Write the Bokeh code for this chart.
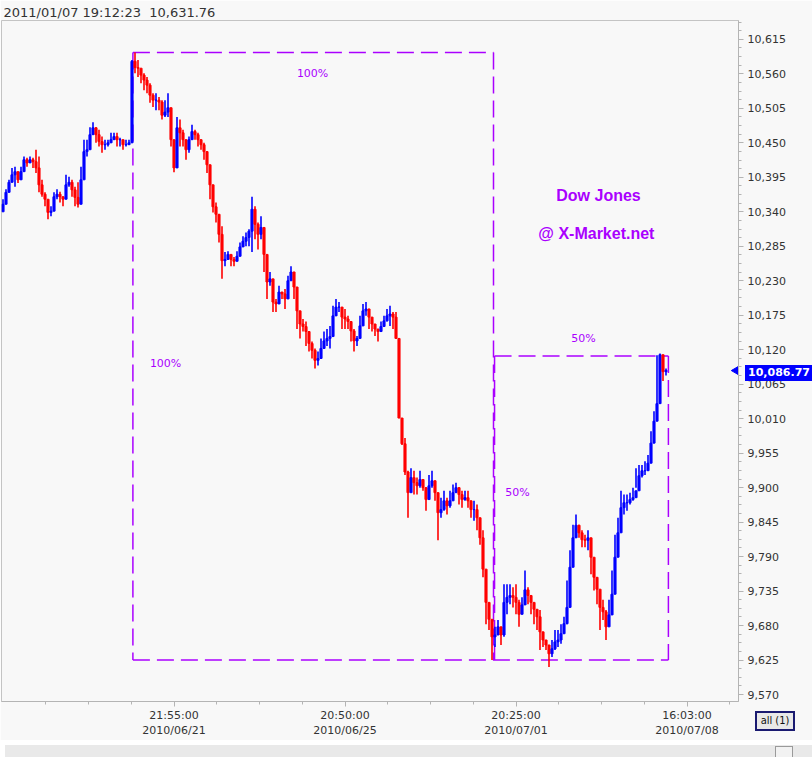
import numpy as np
from bokeh.plotting import figure
from bokeh.models import FixedTicker, NumeralTickFormatter, Range1d, Div, ColumnDataSource
from bokeh.layouts import column
from bokeh.embed import file_html
from bokeh.resources import INLINE
from bokeh.core.properties import value

# ---------------- data ----------------
header = "2011/01/07 19:12:23\u00a0\u00a010,631.76"
first_open = 10340
closes = [
    10352, 10371, 10387, 10399, 10404, 10391, 10404, 10423, 10418, 10423,
    10420, 10410, 10383, 10368, 10360, 10339, 10341, 10364, 10368, 10364,
    10360, 10383, 10387, 10375, 10363, 10352, 10391, 10436, 10439, 10463,
    10474, 10463, 10452, 10447, 10447, 10450, 10455, 10460, 10455, 10455,
    10447, 10447, 10450, 10580, 10570, 10569, 10558, 10550, 10542, 10526,
    10518, 10518, 10515, 10494, 10499, 10506, 10455, 10410, 10474,
    10466, 10455, 10439, 10455, 10468, 10463, 10455, 10447, 10436, 10415,
    10383, 10348, 10336, 10304, 10262, 10264, 10272, 10264, 10261, 10269,
    10284, 10293, 10299, 10309, 10344, 10320, 10304, 10315, 10272, 10228,
    10233, 10196, 10193, 10212, 10209, 10201, 10230, 10244, 10220, 10182,
    10161, 10157, 10149, 10130, 10119, 10103, 10106, 10122, 10134, 10138,
    10141, 10174, 10188, 10188, 10172,
    10169, 10165, 10150, 10134, 10138, 10158, 10182, 10185, 10172, 10161,
    10153, 10149, 10157, 10166, 10174, 10177, 10172, 10138, 10011, 9970,
    9925, 9892, 9916, 9908, 9903, 9913, 9900, 9881, 9903, 9911,
    9892, 9860, 9865, 9879, 9871, 9879, 9892, 9900, 9889, 9881,
    9884, 9879, 9865, 9865, 9852, 9820, 9770,
    9717, 9690, 9662, 9665, 9678, 9665, 9717, 9725, 9728, 9725,
    9717, 9698, 9713, 9737, 9728, 9717, 9706, 9694, 9670, 9657,
    9649, 9635, 9643, 9654, 9657, 9667, 9683, 9709, 9773, 9820,
    9840, 9828, 9817, 9816, 9820, 9789, 9757, 9738, 9709, 9702,
    9678, 9697, 9730, 9789, 9828, 9868, 9876, 9876, 9881, 9884,
    9895, 9919, 9927, 9927, 9939, 9971, 10006, 10034, 10112, 10085,
    10087,
]
highs = [
    10360, 10376, 10391, 10410, 10412, 10402, 10412, 10428, 10426, 10428,
    10426, 10439, 10428, 10391, 10371, 10355, 10349, 10371, 10376, 10372,
    10364, 10399, 10396, 10391, 10380, 10387, 10412, 10455, 10455, 10475,
    10483, 10475, 10471, 10460, 10455, 10455, 10466, 10466, 10466, 10458,
    10452, 10455, 10455, 10582, 10594, 10582, 10566, 10561, 10555, 10545,
    10529, 10529, 10523, 10518, 10518, 10529, 10491, 10444, 10491,
    10487, 10471, 10455, 10460, 10479, 10471, 10466, 10455, 10450, 10428,
    10402, 10364, 10355, 10323, 10317, 10276, 10277, 10269, 10268, 10277,
    10291, 10301, 10307, 10312, 10364, 10349, 10323, 10333, 10301, 10249,
    10244, 10212, 10201, 10222, 10212, 10217, 10238, 10253, 10228, 10201,
    10174, 10169, 10165, 10149, 10133, 10122, 10117, 10138, 10149, 10153,
    10158, 10190, 10201, 10196, 10185,
    10185, 10174, 10158, 10153, 10142, 10174, 10193, 10196, 10180, 10169,
    10158, 10153, 10165, 10174, 10185, 10190, 10180, 10180, 10138, 10011,
    9979, 9927, 9931, 9927, 9916, 9927, 9911, 9900, 9920, 9927,
    9911, 9884, 9884, 9895, 9884, 9895, 9905, 9908, 9900, 9895,
    9895, 9895, 9879, 9879, 9873, 9841, 9832,
    9721, 9709, 9682, 9678, 9689, 9673, 9746, 9746, 9746, 9741,
    9746, 9721, 9725, 9768, 9741, 9725, 9709, 9705, 9705, 9667,
    9657, 9646, 9657, 9673, 9673, 9682, 9694, 9752, 9800, 9841,
    9857, 9841, 9832, 9825, 9832, 9800, 9768, 9757, 9725, 9721,
    9705, 9721, 9768, 9825, 9852, 9895, 9889, 9889, 9892, 9900,
    9931, 9936, 9936, 9942, 9952, 9990, 10022, 10111, 10114, 10095,
    10090,
]
lows = [
    10344, 10360, 10376, 10391, 10380, 10386, 10391, 10407, 10412, 10418,
    10410, 10402, 10371, 10364, 10349, 10328, 10333, 10349, 10360, 10355,
    10349, 10376, 10380, 10364, 10349, 10347, 10380, 10412, 10428, 10455,
    10466, 10450, 10444, 10434, 10439, 10444, 10450, 10455, 10444, 10444,
    10439, 10444, 10447, 10450, 10561, 10555, 10545, 10534, 10529, 10514,
    10507, 10502, 10502, 10487, 10491, 10491, 10444, 10403, 10439,
    10444, 10444, 10423, 10434, 10455, 10455, 10444, 10439, 10423, 10402,
    10360, 10339, 10323, 10291, 10233, 10253, 10264, 10253, 10253, 10264,
    10276, 10285, 10285, 10285, 10276, 10296, 10280, 10296, 10244, 10201,
    10222, 10180, 10180, 10201, 10201, 10185, 10222, 10233, 10201, 10153,
    10138, 10149, 10126, 10117, 10106, 10090, 10095, 10117, 10126, 10126,
    10122, 10158, 10174, 10180, 10153,
    10153, 10153, 10133, 10117, 10126, 10142, 10174, 10174, 10153, 10149,
    10142, 10133, 10149, 10158, 10165, 10158, 10153, 10138, 10011, 9968,
    9920, 9852, 9895, 9889, 9889, 9900, 9895, 9863, 9889, 9900,
    9879, 9816, 9852, 9863, 9857, 9868, 9884, 9895, 9873, 9868,
    9879, 9868, 9852, 9847, 9832, 9809, 9757,
    9682, 9673, 9625, 9646, 9667, 9649, 9662, 9698, 9714, 9709,
    9698, 9678, 9698, 9721, 9714, 9698, 9682, 9673, 9641, 9646,
    9641, 9614, 9630, 9641, 9646, 9651, 9678, 9682, 9746, 9794,
    9820, 9820, 9805, 9805, 9800, 9762, 9736, 9714, 9673, 9689,
    9657, 9682, 9698, 9768, 9816, 9852, 9857, 9863, 9873, 9879,
    9900, 9911, 9916, 9920, 9927, 9952, 9990, 10016, 10085, 10070,
    10079,
]

xtick_pos = [57, 114, 171, 228]
xtick_labels = ["21:55:00\n2010/06/21", "20:50:00\n2010/06/25",
                "20:25:00\n2010/07/01", "16:03:00\n2010/07/08"]
ytick_vals = list(range(9570, 10616, 55))

wave_high, wave_low, wave_mid = 10594, 9625, 10110
wave_start, wave_turn, wave_end = 43.3, 163.5, 221.8
last_price = 10086.77
last_label = "10,086.77"

note_text = ["100%", "100%", "50%", "50%"]
note_x = [103.2, 54.2, 193.5, 171.5]
note_y = [10561, 10098, 10138, 9892]
brand_text = ["Dow Jones", "@ X-Market.net"]
brand_x = [198.5, 197.8]
brand_y = [10366, 10306]

# ---------------- derived ----------------
n = len(closes)
idx = np.arange(n)
cl = np.array(closes, dtype=float)
op = np.concatenate([[first_open], cl[:-1]])
colors = np.where(cl >= op, "#0000ff", "#ff0000")
src = ColumnDataSource(dict(x=idx, top=np.maximum(cl, op), bottom=np.minimum(cl, op),
                            hi=np.array(highs, dtype=float), lo=np.array(lows, dtype=float),
                            color=colors))

PURPLE = "#aa00ff"
FONT = "DejaVu Sans"

p = figure(width=812, height=740,
           x_range=Range1d(-0.5, -0.5 + 737 / 3.0),
           y_range=Range1d(9558.9, 10645.1),
           y_axis_location="right", output_backend="svg", toolbar_location=None,
           min_border_left=1, min_border_right=74, min_border_top=20, min_border_bottom=35,
           background_fill_color="#f8f8f8", border_fill_color="#f8f8f8",
           outline_line_color="#c4c4c4", title=header)
p.grid.visible = False
p.title.text_font = FONT
p.title.text_font_size = "13px"
p.title.text_font_style = "normal"
p.title.text_color = "#333333"
p.title.align = "left"
p.title.offset = 2
p.title.standoff = 2

# axes
yax = p.yaxis[0]
yax.ticker = FixedTicker(ticks=ytick_vals, minor_ticks=list(np.arange(9570 - 55, 10660, 13.75)))
yax.formatter = NumeralTickFormatter(format="0,0")
xax = p.xaxis[0]
xax.ticker = FixedTicker(ticks=xtick_pos,
                         minor_ticks=list(np.arange(xtick_pos[0] - 3 * 14.25, 246, 14.25)))
xax.major_label_overrides = {k: v for k, v in zip(xtick_pos, xtick_labels)}
for ax in (xax, yax):
    ax.axis_line_color = "#b4b4b4"
    ax.major_tick_line_color = "#b4b4b4"
    ax.minor_tick_line_color = "#b4b4b4"
    ax.major_tick_in = 0
    ax.minor_tick_in = 0
    ax.major_tick_out = 5
    ax.minor_tick_out = 3
    ax.major_label_text_font = FONT
    ax.major_label_text_font_size = "11px"
    ax.major_label_text_color = "#333333"
yax.major_label_standoff = 4
xax.major_label_standoff = 2

# wave measurement lines
seg_x0 = [wave_start, wave_start, wave_turn, wave_start, wave_turn + 0.35, wave_turn + 0.35, wave_end]
seg_y0 = [wave_high, wave_high, wave_high, wave_low, wave_mid, wave_mid, wave_mid]
seg_x1 = [wave_turn, wave_start, wave_turn, wave_end, wave_end, wave_turn + 0.35, wave_end]
seg_y1 = [wave_high, wave_low, wave_low, wave_low, wave_mid, wave_low, wave_low]
p.segment(seg_x0, seg_y0, seg_x1, seg_y1, line_color=PURPLE, line_width=1.5, line_dash="17 7")

# candles
p.segment(x0="x", y0="lo", x1="x", y1="hi", source=src, line_color="color", line_width=1.6)
p.vbar(x="x", top="top", bottom="bottom", width=0.7, source=src,
       fill_color="color", line_color="color", line_width=1)

# annotations
p.text(x=note_x, y=note_y, text=note_text, text_font=value(FONT), text_font_size="11px",
       text_color=PURPLE, text_align="center", text_baseline="middle")
p.text(x=brand_x, y=brand_y, text=brand_text, text_font=value("Liberation Sans"),
       text_font_size="16px", text_font_style="bold",
       text_color=PURPLE, text_align="center", text_baseline="middle")

p.scatter(x=[244.3], y=[last_price], marker="triangle", size=8, angle=np.pi / 2,
          fill_color="#0000ff", line_color="#0000ff")

tag_top = -380
bar = Div(width=812, height=17,
          text='<div style="position:relative;width:812px;height:17px;background:#e9e9e9;">'
               '<div style="position:absolute;left:770px;top:1px;width:18px;height:13px;'
               'background:#f2f2f2;border:1px solid #9a9a9a;"></div>'
               f'<div style="position:absolute;left:740px;top:{tag_top}px;width:72px;height:16px;'
               'background:#0000ff;color:#ffffff;font-family:\'DejaVu Sans\';font-size:11px;'
               'font-weight:bold;line-height:16px;padding-left:3px;box-sizing:border-box;'
               f'white-space:nowrap;">{last_label}</div>'
               '<div style="position:absolute;left:750px;top:-34px;width:40px;height:20px;'
               'background:#e8e8e8;border:2px solid #1a1a70;box-sizing:border-box;color:#111;'
               'font-family:\'DejaVu Sans Condensed\',\'DejaVu Sans\';font-size:11px;line-height:16px;'
               'text-align:center;white-space:nowrap;">all (1)</div>'
               '</div>')

layout = column(p, bar, spacing=0)
open("out.html", "w").write(file_html(layout, INLINE))
